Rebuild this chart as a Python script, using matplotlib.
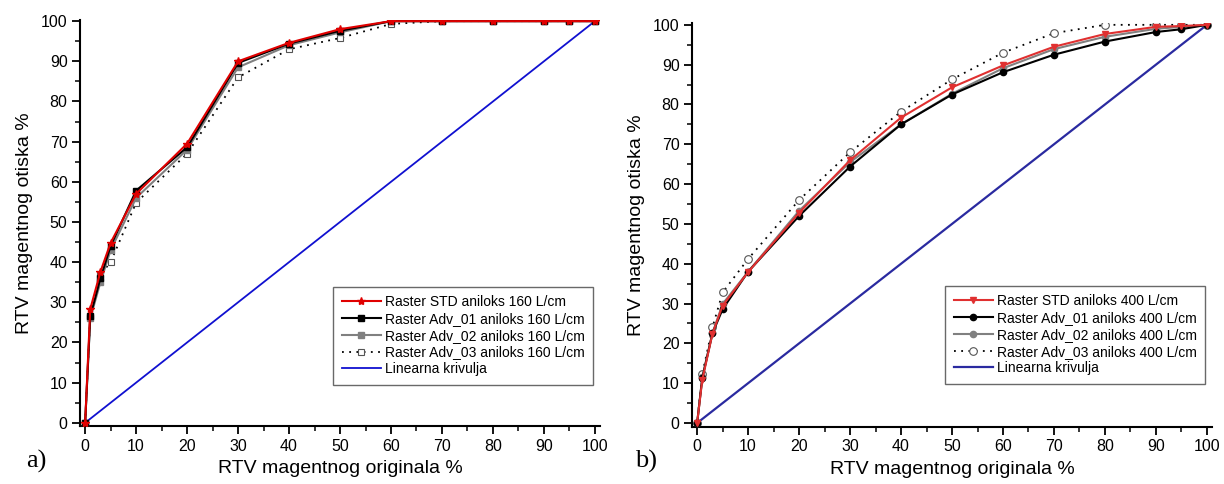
import numpy as np
import matplotlib
matplotlib.use('Agg')
import matplotlib.pyplot as plt
from matplotlib.ticker import MultipleLocator

plt.rcParams['font.family'] = ['Liberation Sans', 'DejaVu Sans']

# x values (RTV original %)
x_pts = [0, 1, 3, 5, 10, 20, 30, 40, 50, 60, 70, 80, 90, 95, 100]

# a) 160 L/cm
std_160 = [0, 28.3, 37.6, 44.8, 57, 69.5, 90, 94.6, 98, 100, 100, 100, 100, 100, 100]
adv1_160 = [0, 26.5, 36, 44, 57.8, 68.6, 89.6, 94.4, 97.6, 100, 100, 100, 100, 100, 100]
adv2_160 = [0, 26, 35, 43, 56, 68, 88.5, 94, 97.2, 100, 100, 100, 100, 100, 100]
adv3_160 = [0, 26.4, 36.9, 40, 54.8, 67, 86, 93, 95.8, 99.3, 100, 100, 100, 100, 100]

# b) 400 L/cm
std_400 = [0, 10.8, 22.4, 29.5, 37.9, 52.8, 66, 76.7, 84.3, 89.8, 94.5, 97.7, 99.5, 99.7, 100]
adv1_400 = [0, 11.2, 22.5, 28.6, 38, 52, 64.4, 75, 82.5, 88.1, 92.5, 95.8, 98.2, 98.9, 100]
adv2_400 = [0, 11.5, 22.6, 29.9, 38, 53.3, 65.5, 75, 82.7, 89.1, 93.9, 97, 99, 99.5, 100]
adv3_400 = [0, 12.3, 24, 32.8, 41.2, 56, 68, 78.2, 86.3, 93, 97.9, 100, 100, 100, 100]

linear = [0, 100]
linear_x = [0, 100]

labels_160 = ['Raster STD aniloks 160 L/cm', 'Raster Adv_01 aniloks 160 L/cm',
              'Raster Adv_02 aniloks 160 L/cm', 'Raster Adv_03 aniloks 160 L/cm',
              'Linearna krivulja']
labels_400 = ['Raster STD aniloks 400 L/cm', 'Raster Adv_01 aniloks 400 L/cm',
              'Raster Adv_02 aniloks 400 L/cm', 'Raster Adv_03 aniloks 400 L/cm',
              'Linearna krivulja']

fig = plt.figure(figsize=(12.24, 4.84), dpi=100)
ax1 = fig.add_axes([0.0654, 0.1198, 0.4248, 0.839])
ax2 = fig.add_axes([0.5654, 0.1178, 0.4248, 0.835])


def style_axes(ax, ylim):
    for s in ['top', 'right']:
        ax.spines[s].set_visible(False)
    for s in ['left', 'bottom']:
        ax.spines[s].set_linewidth(1.5)
    ax.set_xlim(-1, 101)
    ax.set_ylim(*ylim)
    ax.xaxis.set_major_locator(MultipleLocator(10))
    ax.xaxis.set_minor_locator(MultipleLocator(5))
    ax.yaxis.set_major_locator(MultipleLocator(10))
    ax.yaxis.set_minor_locator(MultipleLocator(5))
    ax.tick_params(which='major', direction='out', length=6, width=1.3, labelsize=11.5, pad=3)
    ax.tick_params(which='minor', direction='out', length=3.5, width=1.1)
    ax.set_xlabel('RTV magentnog originala %', fontsize=14, labelpad=5)
    ax.set_ylabel('RTV magentnog otiska %', fontsize=14, labelpad=6)


# panel a
ax1.plot(x_pts, adv3_160, color='black', ls=(0, (1, 3)), lw=1.3, marker='s', ms=5,
         mfc='white', mec='#555555', mew=0.8, label=labels_160[3], zorder=2)
ax1.plot(x_pts, adv2_160, color='#808080', lw=1.5, marker='s', ms=4.5,
         mfc='#808080', mec='#808080', label=labels_160[2], zorder=3)
ax1.plot(x_pts, adv1_160, color='black', lw=1.5, marker='s', ms=4.5,
         label=labels_160[1], zorder=4)
ax1.plot(x_pts, std_160, color='#e00000', lw=1.5, marker='*', ms=6,
         label=labels_160[0], zorder=5)
ax1.plot(linear_x, linear, color='#1010d0', lw=1.3, label=labels_160[4], zorder=1)
h, l = ax1.get_legend_handles_labels()
order = [3, 2, 1, 0, 4]
ax1.legend([h[i] for i in order], [l[i] for i in order], loc='lower right',
           bbox_to_anchor=(1.0, 0.085), fontsize=10, frameon=True, fancybox=False,
           edgecolor='#444444', labelspacing=0.2, handlelength=2.8, handletextpad=0.3,
           borderpad=0.6)
style_axes(ax1, (-0.8, 100.3))
fig.text(0.021, 0.033, 'a)', fontsize=19, family='Liberation Serif')

# panel b
ax2.plot(x_pts, adv3_400, color='black', ls=(0, (1, 3)), lw=1.3, marker='o', ms=5.5,
         mfc='white', mec='#555555', mew=0.8, label=labels_400[3], zorder=2)
ax2.plot(x_pts, adv2_400, color='#808080', lw=1.5, marker='o', ms=4.5,
         mfc='#808080', mec='#808080', label=labels_400[2], zorder=3)
ax2.plot(x_pts, adv1_400, color='black', lw=1.5, marker='o', ms=4.5,
         label=labels_400[1], zorder=4)
ax2.plot(x_pts, std_400, color='#e03030', lw=1.5, marker='v', ms=5,
         label=labels_400[0], zorder=5)
ax2.plot(linear_x, linear, color='#2a2aa0', lw=1.6, label=labels_400[4], zorder=1)
h, l = ax2.get_legend_handles_labels()
ax2.legend([h[i] for i in order], [l[i] for i in order], loc='lower right',
           bbox_to_anchor=(1.0, 0.09), fontsize=10, frameon=True, fancybox=False,
           edgecolor='#444444', labelspacing=0.2, handlelength=2.8, handletextpad=0.3,
           borderpad=0.6)
style_axes(ax2, (-1, 100.5))
fig.text(0.519, 0.033, 'b)', fontsize=19, family='Liberation Serif')

fig.savefig('out.png', dpi=100)
